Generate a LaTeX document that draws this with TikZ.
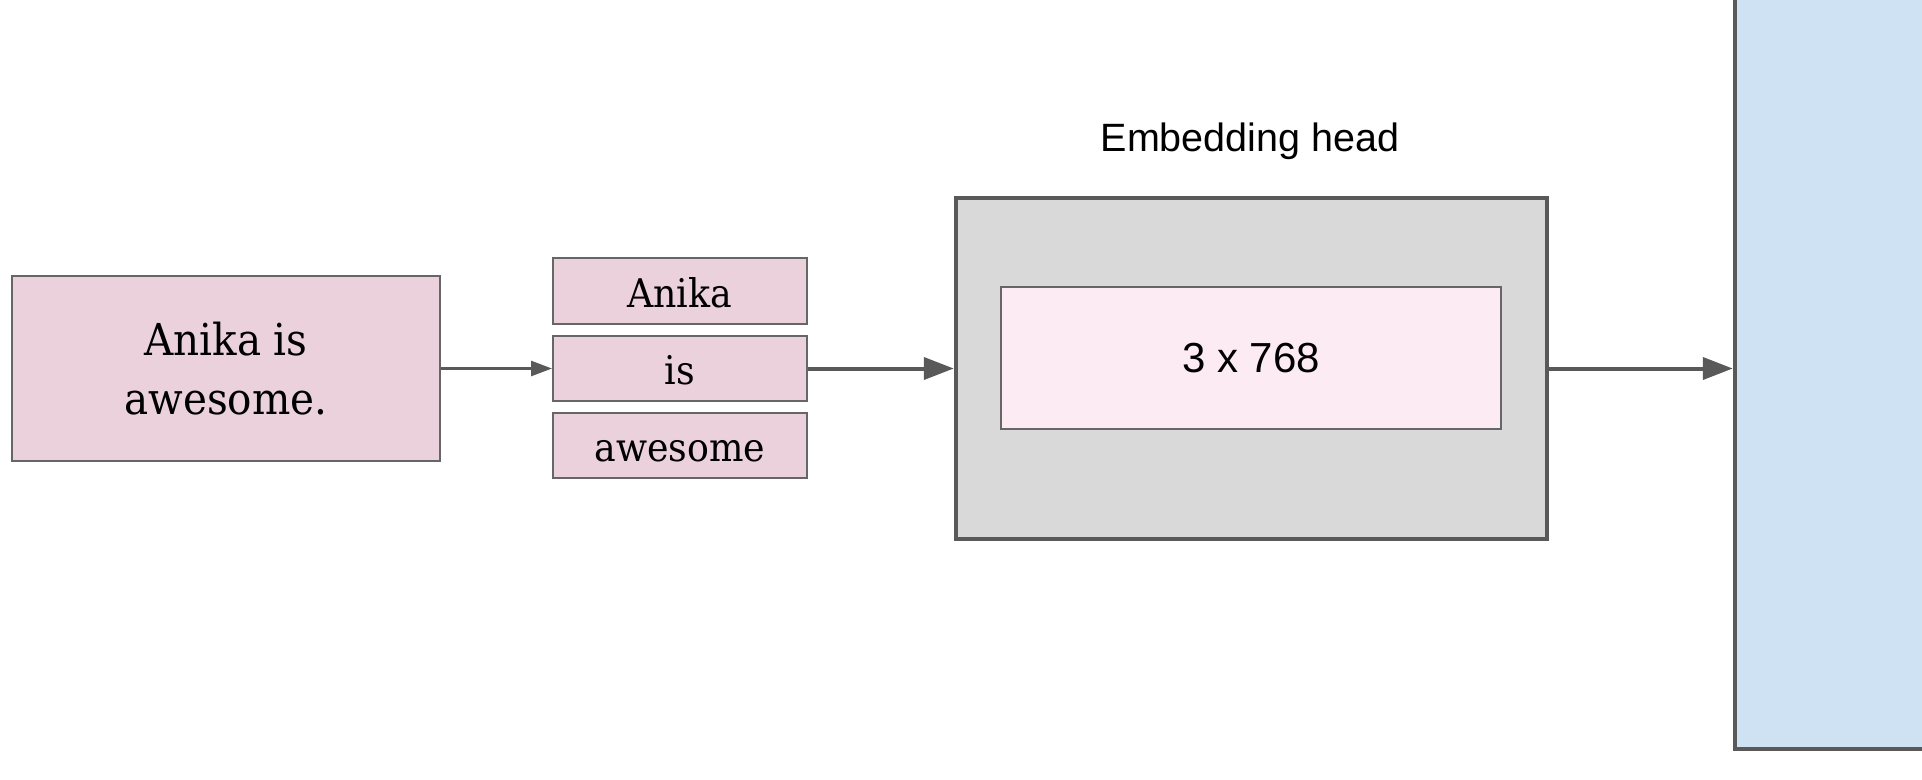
\documentclass[tikz,border=0pt]{standalone}
\usepackage{fontspec}
\setmainfont{DejaVu Serif}
\newfontfamily\tokfont[FakeStretch=0.92]{DejaVu Serif}
\newfontfamily\arialfont{Liberation Sans}
\usetikzlibrary{arrows.meta}
\definecolor{pinkfill}{HTML}{EAD1DC}
\definecolor{grayfill}{HTML}{D9D9D9}
\definecolor{lightpink}{HTML}{FDEBF3}
\definecolor{bluefill}{HTML}{CFE2F3}
\definecolor{edge}{HTML}{595959}
\definecolor{thinedge}{HTML}{666666}
\begin{document}
\begin{tikzpicture}[x=1pt,y=-1pt,
  sentbox/.style={draw=thinedge,line width=2.2pt,fill=pinkfill,minimum width=428pt,minimum height=185pt,inner sep=0pt,align=center,font=\tokfont\fontsize{44}{59}\selectfont},
  tokbox/.style={draw=thinedge,line width=2pt,fill=pinkfill,minimum width=253.5pt,minimum height=65.5pt,inner sep=0pt,text height=32pt,text depth=0pt,font=\tokfont\fontsize{39.5}{46}\selectfont},
  headbox/.style={draw=edge,line width=4.5pt,fill=grayfill,minimum width=591pt,minimum height=341pt,inner sep=0pt},
  dimbox/.style={draw=thinedge,line width=2pt,fill=lightpink,minimum width=500pt,minimum height=141.5pt,inner sep=0pt,font=\arialfont\fontsize{42}{50}\selectfont},
  modelbox/.style={draw=edge,line width=4.5pt,fill=bluefill,minimum width=260pt,minimum height=780pt,inner sep=0pt},
  arrA/.style={draw=edge,line width=2.7pt,-{Triangle[length=21pt,width=15pt]}},
  arrB/.style={draw=edge,line width=4pt,-{Triangle[length=30pt,width=22pt]}}
]
\clip (0,0) rectangle (1922,779);
\fill[white] (0,0) rectangle (1922,779);

\node[sentbox] (sent) at (226,368.5) {Anika is\\awesome.};

\node[tokbox] (tokanika) at (679.75,291) {Anika};
\node[tokbox] (tokis) at (679.75,368.5) {is};
\node[tokbox] (tokawesome) at (679.75,445.5) {awesome};

\node[headbox] (head) at (1251.5,368.5) {};
\node[dimbox] (dims) at (1251,357.75) {3 x 768};
\node[font=\arialfont\fontsize{39.5}{47}\selectfont,anchor=base] (headlabel) at (1250,151) {Embedding head};

\node[modelbox] (model) at (1865,359) {};

\draw[arrA] (sent.east) -- (tokis.west);
\draw[arrB] (tokis.east) -- (head.west);
\draw[arrB] (head.east) -- (head.east -| model.west);
\end{tikzpicture}
\end{document}
